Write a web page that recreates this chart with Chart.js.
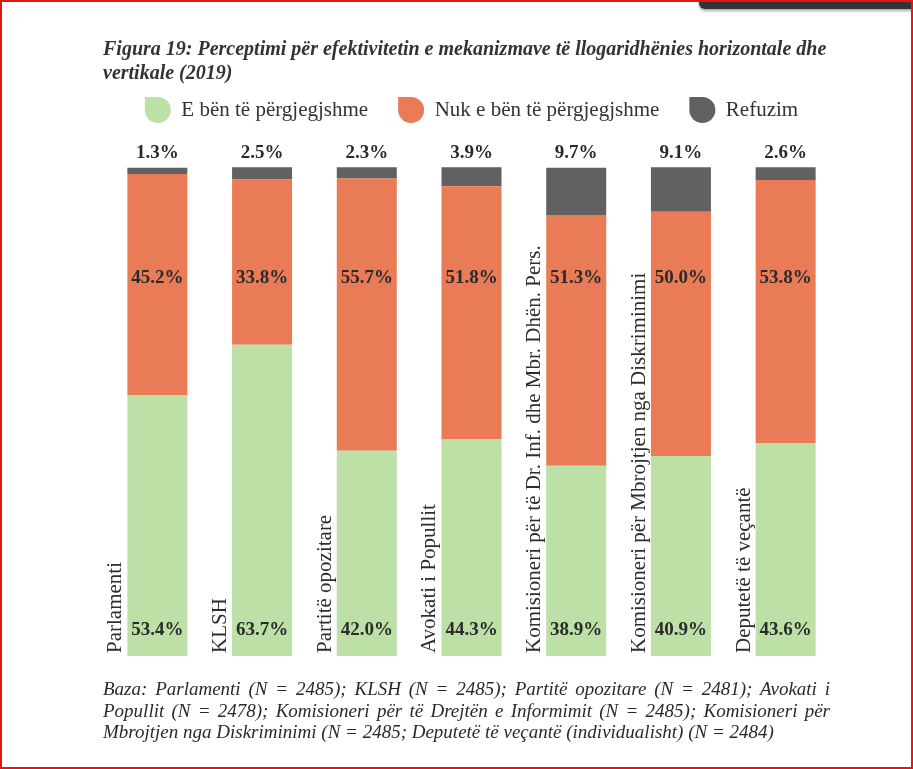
<!DOCTYPE html>
<html>
<head>
  <title>Figura 19</title>
  <script src="https://cdn.jsdelivr.net/npm/chart.js"></script>
  <style>
    body { margin: 0; background: #fff; }
    .page { position: relative; width: 913px; height: 769px; overflow: hidden; }
    .frame { position: absolute; left: 0; top: 0; width: 913px; height: 769px; box-sizing: border-box; border: 2px solid #e8141b; pointer-events: none; }
    .tab { position: absolute; left: 699px; top: -12px; width: 230px; height: 21px; background: #333; border-radius: 6px; box-shadow: 0 2px 3px rgba(0,0,0,0.35); }
    .chart-box { position: absolute; left: 0; top: 0; width: 913px; height: 769px; }
    .title { position: absolute; left: 103px; top: 36px; width: 760px; font-family: "Liberation Serif", serif; font-style: italic; font-weight: bold; font-size: 20px; line-height: 24px; color: #333; }
    .note { position: absolute; left: 103px; top: 678px; width: 727px; font-family: "Liberation Serif", serif; font-style: italic; font-size: 19px; line-height: 21.5px; color: #2a2a2a; }
    .note div.j { text-align: justify; text-align-last: justify; }
  </style>
</head>
<body>
  <div class="page">
    <div class="chart-box"><canvas id="perceptionChart"></canvas></div>
    <div class="title">Figura 19: Perceptimi për efektivitetin e mekanizmave të llogaridhënies horizontale dhe<br>vertikale (2019)</div>
    <div class="note">
      <div class="j">Baza: Parlamenti (N = 2485); KLSH (N = 2485); Partitë opozitare (N = 2481); Avokati i</div>
      <div class="j">Popullit (N = 2478); Komisioneri për të Drejtën e Informimit (N = 2485); Komisioneri për</div>
      <div>Mbrojtjen nga Diskriminimi (N = 2485; Deputetë të veçantë (individualisht) (N = 2484)</div>
    </div>
    <div class="tab"></div>
    <div class="frame"></div>
  </div>

  <script>
    const institutions = [
      'Parlamenti',
      'KLSH',
      'Partitë opozitare',
      'Avokati i Popullit',
      'Komisioneri për të Dr. Inf. dhe Mbr. Dhën. Pers.',
      'Komisioneri për Mbrojtjen nga Diskriminimi',
      'Deputetë të veçantë'
    ];
    const seriesNames = ['E bën të përgjegjshme', 'Nuk e bën të përgjegjshme', 'Refuzim'];
    const effective = [53.4, 63.7, 42.0, 44.3, 38.9, 40.9, 43.6];
    const notEffective = [45.2, 33.8, 55.7, 51.8, 51.3, 50.0, 53.8];
    const refused = [1.3, 2.5, 2.3, 3.9, 9.7, 9.1, 2.6];

    const GREEN = '#bce0a6';
    const ORANGE = '#e97b56';
    const GREY = '#616162';

    // rotated category names, drawn next to each bar
    const sideLabels = {
      id: 'sideLabels',
      afterDatasetsDraw(chart) {
        const ctx = chart.ctx;
        const meta = chart.getDatasetMeta(0);
        const yScale = chart.scales.y;
        const bottom = yScale.getPixelForValue(0);
        ctx.save();
        ctx.font = '21px "Liberation Serif"';
        ctx.fillStyle = '#2e2e2e';
        ctx.textAlign = 'left';
        ctx.textBaseline = 'alphabetic';
        meta.data.forEach((bar, i) => {
          ctx.save();
          ctx.translate(bar.x - bar.width / 2 - 6, bottom - 3);
          ctx.rotate(-Math.PI / 2);
          ctx.fillText(institutions[i], 0, 0);
          ctx.restore();
        });
        ctx.restore();
      }
    };

    // percentage labels
    const valueLabels = {
      id: 'valueLabels',
      afterDatasetsDraw(chart) {
        const ctx = chart.ctx;
        const yScale = chart.scales.y;
        ctx.save();
        ctx.font = 'bold 19px "Liberation Serif"';
        ctx.fillStyle = '#2b2b2b';
        ctx.textAlign = 'center';
        ctx.textBaseline = 'middle';
        const meta = chart.getDatasetMeta(0);
        meta.data.forEach((bar, i) => {
          ctx.fillText(effective[i].toFixed(1) + '%', bar.x, yScale.getPixelForValue(0) - 26);
          ctx.fillText(notEffective[i].toFixed(1) + '%', bar.x, yScale.getPixelForValue(77.3));
          ctx.fillText(refused[i].toFixed(1) + '%', bar.x, yScale.getPixelForValue(100) - 14);
        });
        ctx.restore();
      }
    };

    new Chart(document.getElementById('perceptionChart'), {
      type: 'bar',
      data: {
        labels: institutions,
        datasets: [
          { label: seriesNames[0], data: effective, backgroundColor: GREEN },
          { label: seriesNames[1], data: notEffective, backgroundColor: ORANGE },
          { label: seriesNames[2], data: refused, backgroundColor: GREY }
        ]
      },
      options: {
        responsive: true,
        maintainAspectRatio: false,
        animation: false,
        layout: { padding: { top: 67, bottom: 113, left: 105, right: 75 } },
        datasets: {
          bar: { categoryPercentage: 1, barPercentage: 0.573, borderWidth: 0 }
        },
        scales: {
          x: { stacked: true, display: false },
          y: { stacked: true, display: false, min: 0, max: 107 }
        },
        plugins: {
          tooltip: { enabled: false },
          legend: {
            position: 'top',
            labels: {
              boxWidth: 26,
              boxHeight: 26,
              padding: 30,
              useBorderRadius: true,
              borderRadius: { topLeft: 0, topRight: 13, bottomLeft: 13, bottomRight: 13 },
              color: '#333',
              font: { family: '"Liberation Serif"', size: 21 }
            }
          }
        }
      },
      plugins: [sideLabels, valueLabels]
    });
  </script>
</body>
</html>
